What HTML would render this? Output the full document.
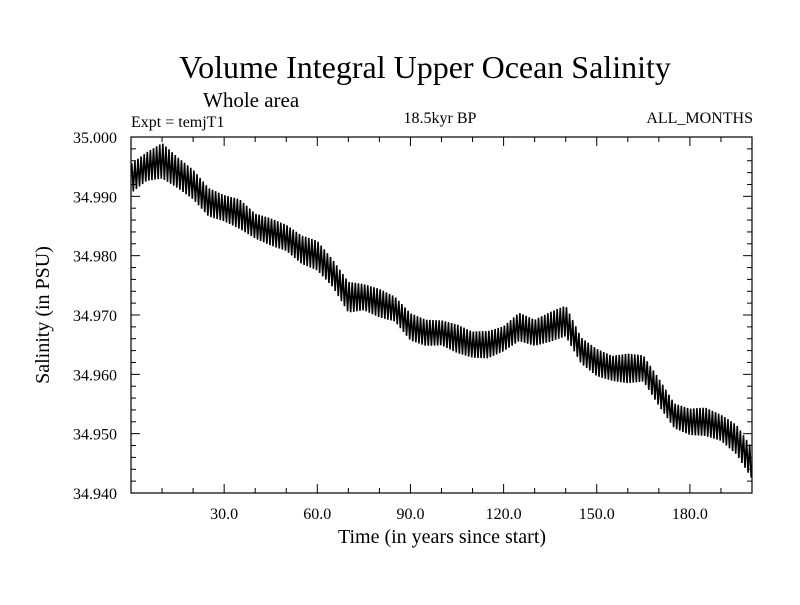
<!DOCTYPE html>
<html><head><meta charset="utf-8"><style>
body{margin:0;background:#fff}
svg text{font-family:"Liberation Serif",serif;fill:#000}
</style></head><body>
<svg id="c" width="800" height="600">
<text x="425" y="78" font-size="32" text-anchor="middle">Volume Integral Upper Ocean Salinity</text>
<text x="203" y="107" font-size="21">Whole area</text>
<text x="131" y="127" font-size="16">Expt = temjT1</text>
<text x="440" y="123" font-size="16" text-anchor="middle">18.5kyr BP</text>
<text x="753" y="123" font-size="16" text-anchor="end">ALL_MONTHS</text>
<text x="442" y="543" font-size="20" text-anchor="middle">Time (in years since start)</text>
<text transform="translate(49,315) rotate(-90)" font-size="20" text-anchor="middle">Salinity (in PSU)</text>
<g id="axes"></g>
<g id="series"></g>
</svg>
<script>
const years=[0,5,10,15,20,25,30,35,40,45,50,55,60,65,70,75,80,85,90,95,100,105,110,115,120,125,130,135,140,145,150,155,160,165,170,175,180,185,190,195,200];
const meanVals=[34.993,34.995,34.996,34.994,34.992,34.989,34.988,34.987,34.985,34.984,34.983,34.981,34.980,34.977,34.973,34.973,34.972,34.971,34.968,34.967,34.967,34.966,34.965,34.965,34.966,34.968,34.967,34.968,34.969,34.964,34.962,34.961,34.961,34.961,34.957,34.953,34.952,34.952,34.951,34.949,34.945];
const ampVals=[0.0025,0.0024,0.003,0.0026,0.0025,0.0024,0.0022,0.0025,0.0021,0.0023,0.0022,0.0024,0.0025,0.0023,0.0026,0.0022,0.0024,0.0021,0.0023,0.0022,0.0021,0.0024,0.0022,0.0023,0.0021,0.0024,0.0022,0.0025,0.0026,0.0022,0.0023,0.0021,0.0025,0.0022,0.0023,0.0021,0.0022,0.0024,0.0022,0.0025,0.0026];
const xTicks=[30,60,90,120,150,180];
const xTickLabels=["30.0","60.0","90.0","120.0","150.0","180.0"];
const yTicks=[34.94,34.95,34.96,34.97,34.98,34.99,35.0];
const yTickLabels=["34.940","34.950","34.960","34.970","34.980","34.990","35.000"];
const L=131,R=752,T=137,B=493,NS="http://www.w3.org/2000/svg";
const xs=v=>L+(v-0)/(200-0)*(R-L);
const ys=v=>B-(v-34.94)/(35.0-34.94)*(B-T);
function mk(t,a,p){const e=document.createElementNS(NS,t);for(const k in a)e.setAttribute(k,a[k]);p.appendChild(e);return e;}
const ax=document.getElementById('axes');
const frame=mk('rect',{x:L,y:T,width:R-L,height:B-T,fill:'none',stroke:'#000','stroke-width':1.2},ax);


for(let v=10;v<200;v+=10){const maj=v%30===0;const len=maj?9:5;
mk('line',{x1:xs(v),x2:xs(v),y1:B,y2:B-len,stroke:'#000'},ax);
mk('line',{x1:xs(v),x2:xs(v),y1:T,y2:T+len,stroke:'#000'},ax);}
xTicks.forEach((v,i)=>{const t=mk('text',{x:xs(v),y:B+26,'font-size':16,'text-anchor':'middle'},ax);t.textContent=xTickLabels[i];

});
for(let k=0;k<=30;k++){const v=34.94+k*0.002;const maj=k%5===0;const len=maj?9:5;
mk('line',{x1:L,x2:L+len,y1:ys(v),y2:ys(v),stroke:'#000'},ax);
mk('line',{x1:R,x2:R-len,y1:ys(v),y2:ys(v),stroke:'#000'},ax);}
yTicks.forEach((v,i)=>{const t=mk('text',{x:117,y:ys(v)+6,'font-size':16,'text-anchor':'end'},ax);t.textContent=yTickLabels[i];

});
function interp(arr,y){let i=Math.min(Math.floor(y/5),years.length-2);const f=(y-years[i])/5;return arr[i]+(arr[i+1]-arr[i])*f;}
let pts=[];
for(let y=0;y<200;y++){
 const a=y+0.25,b=y+0.75;
 pts.push(xs(a)+','+ys(interp(meanVals,a)+interp(ampVals,a)));
 pts.push(xs(b)+','+ys(interp(meanVals,b)-interp(ampVals,b)));
}
const pl=mk('polyline',{points:pts.join(' '),fill:'none',stroke:'#000','stroke-width':1.6},document.getElementById('series'));


</script>
</body></html>
